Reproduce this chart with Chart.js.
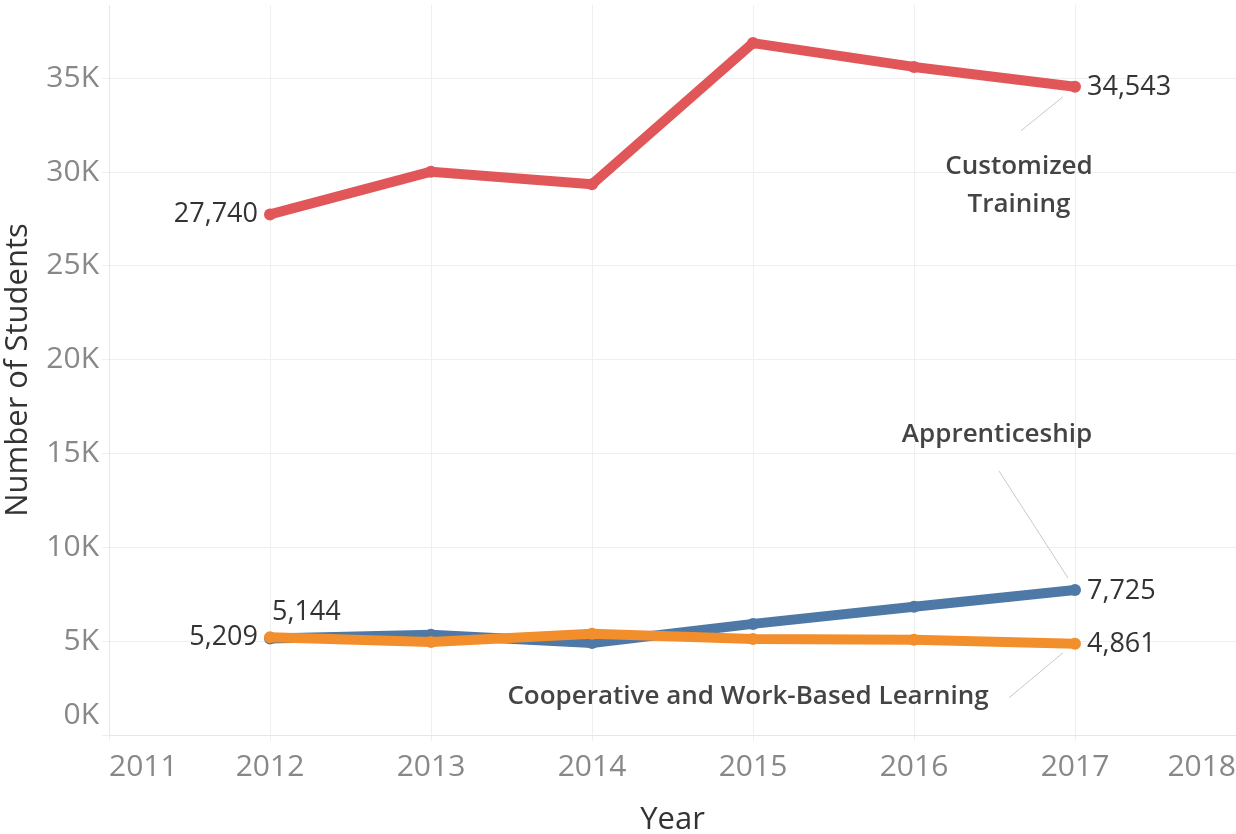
<!DOCTYPE html>
<html lang="en">
<head>
    <meta charset="utf-8" />
    <title>Number of Students by Year</title>
    <script src="https://cdn.jsdelivr.net/npm/chart.js"></script>
    <style>
        body {
            margin: 0;
            background: #fff;
        }
    </style>
</head>
<body>
    <canvas id="myChart" width="1236" height="834"></canvas>
    <script>
        // Data
        const years = [2012, 2013, 2014, 2015, 2016, 2017];
        const customizedTraining = [27740, 30020, 29350, 36870, 35600, 34543];
        const apprenticeship = [5144, 5340, 4900, 5920, 6830, 7725];
        const cooperative = [5209, 4960, 5390, 5120, 5070, 4861];
        const yTicks = [0, 5000, 10000, 15000, 20000, 25000, 30000, 35000];

        const fmt = n => n.toLocaleString('en-US');
        const toPoints = arr => arr.map((v, i) => ({ x: years[i], y: v }));

        // labels drawn next to points (offsets in px from the point)
        const valueLabels = [
            { ds: 0, i: 0, dx: -12, dy: 0, align: 'right' },
            { ds: 0, i: 5, dx: 12, dy: 1, align: 'left' },
            { ds: 1, i: 0, dx: 2, dy: -26, align: 'left' },
            { ds: 2, i: 0, dx: -12, dy: 0, align: 'right' },
            { ds: 1, i: 5, dx: 12, dy: 1, align: 'left' },
            { ds: 2, i: 5, dx: 12, dy: 1, align: 'left' }
        ];

        const labelPlugin = {
            id: 'labels',
            afterDraw(chart) {
                const ctx = chart.ctx;
                const yScale = chart.scales.y;
                ctx.save();

                // y tick labels (0K sits inside the pane like Tableau does)
                ctx.font = '30px "Open Sans"';
                ctx.fillStyle = '#888';
                ctx.textAlign = 'right';
                ctx.textBaseline = 'middle';
                yTicks.forEach(v => {
                    let y = yScale.getPixelForValue(v);
                    if (v === 0) y -= 20;
                    ctx.fillText((v / 1000) + 'K', 99, y);
                });

                // value labels
                ctx.font = '27px "Open Sans"';
                ctx.fillStyle = '#333';
                valueLabels.forEach(l => {
                    const pt = chart.getDatasetMeta(l.ds).data[l.i];
                    const v = chart.data.datasets[l.ds].data[l.i].y;
                    ctx.textAlign = l.align;
                    ctx.fillText(fmt(v), pt.x + l.dx, pt.y + l.dy);
                });

                // series name annotations with leader lines
                const red = chart.getDatasetMeta(0).data[5];
                const blue = chart.getDatasetMeta(1).data[5];
                const orange = chart.getDatasetMeta(2).data[5];

                ctx.strokeStyle = '#c8c8c8';
                ctx.lineWidth = 1;
                ctx.beginPath();
                ctx.moveTo(red.x - 12, red.y + 10);
                ctx.lineTo(red.x - 54, red.y + 44);
                ctx.moveTo(blue.x - 7, blue.y - 12);
                ctx.lineTo(blue.x - 76, blue.y - 119);
                ctx.moveTo(orange.x - 12, orange.y + 9);
                ctx.lineTo(orange.x - 66, orange.y + 54);
                ctx.stroke();

                ctx.font = '600 26px "Open Sans"';
                ctx.fillStyle = '#444';
                ctx.textAlign = 'center';
                ctx.fillText('Customized', red.x - 56, red.y + 80);
                ctx.fillText('Training', red.x - 56, red.y + 118);
                ctx.fillText('Apprenticeship', blue.x - 78, blue.y - 155);
                ctx.fillText('Cooperative and Work-Based Learning', orange.x - 327, orange.y + 53);

                ctx.restore();
            }
        };

        const ctx = document.getElementById('myChart').getContext('2d');
        const myChart = new Chart(ctx, {
            type: 'line',
            data: {
                datasets: [{
                    label: 'Customized Training',
                    data: toPoints(customizedTraining),
                    borderColor: '#E15759',
                    backgroundColor: '#E15759',
                    order: 3
                }, {
                    label: 'Apprenticeship',
                    data: toPoints(apprenticeship),
                    borderColor: '#4E79A7',
                    backgroundColor: '#4E79A7',
                    order: 2
                }, {
                    label: 'Cooperative and Work-Based Learning',
                    data: toPoints(cooperative),
                    borderColor: '#F28E2B',
                    backgroundColor: '#F28E2B',
                    order: 1
                }]
            },
            options: {
                responsive: false,
                animation: false,
                elements: {
                    line: { borderWidth: 10, tension: 0, borderJoinStyle: 'round', borderCapStyle: 'round' },
                    point: { radius: 6, borderWidth: 0, hoverRadius: 6 }
                },
                layout: { autoPadding: false, padding: { top: 5, left: 0, right: 0, bottom: 0 } },
                plugins: {
                    legend: { display: false },
                    tooltip: { enabled: false }
                },
                scales: {
                    x: {
                        type: 'linear',
                        min: 2011,
                        max: 2018,
                        afterFit: s => {
                            s.height = 99;
                            s.paddingLeft = 0;
                            s.paddingRight = 0;
                        },
                        ticks: {
                            stepSize: 1,
                            align: 'inner',
                            padding: 8,
                            color: '#888',
                            font: { family: 'Open Sans', size: 30 },
                            callback: v => String(v)
                        },
                        grid: { color: '#efefef', tickLength: 6 },
                        border: { color: '#e6e6e6' },
                        title: {
                            display: true,
                            text: 'Year',
                            color: '#333',
                            padding: { top: 0, bottom: -5 },
                            font: { family: 'Open Sans', size: 31 }
                        }
                    },
                    y: {
                        min: 0,
                        max: 38900,
                        bounds: 'data',
                        afterBuildTicks: s => { s.ticks = yTicks.map(v => ({ value: v })); },
                        afterFit: s => { s.width = 109; },
                        ticks: {
                            display: false
                        },
                        grid: { color: '#efefef', tickLength: 7 },
                        border: { color: '#e6e6e6' },
                        title: {
                            display: true,
                            text: 'Number of Students',
                            color: '#333',
                            padding: 0,
                            font: { family: 'Open Sans', size: 31 }
                        }
                    }
                }
            },
            plugins: [labelPlugin]
        });
    </script>
</body>
</html>
